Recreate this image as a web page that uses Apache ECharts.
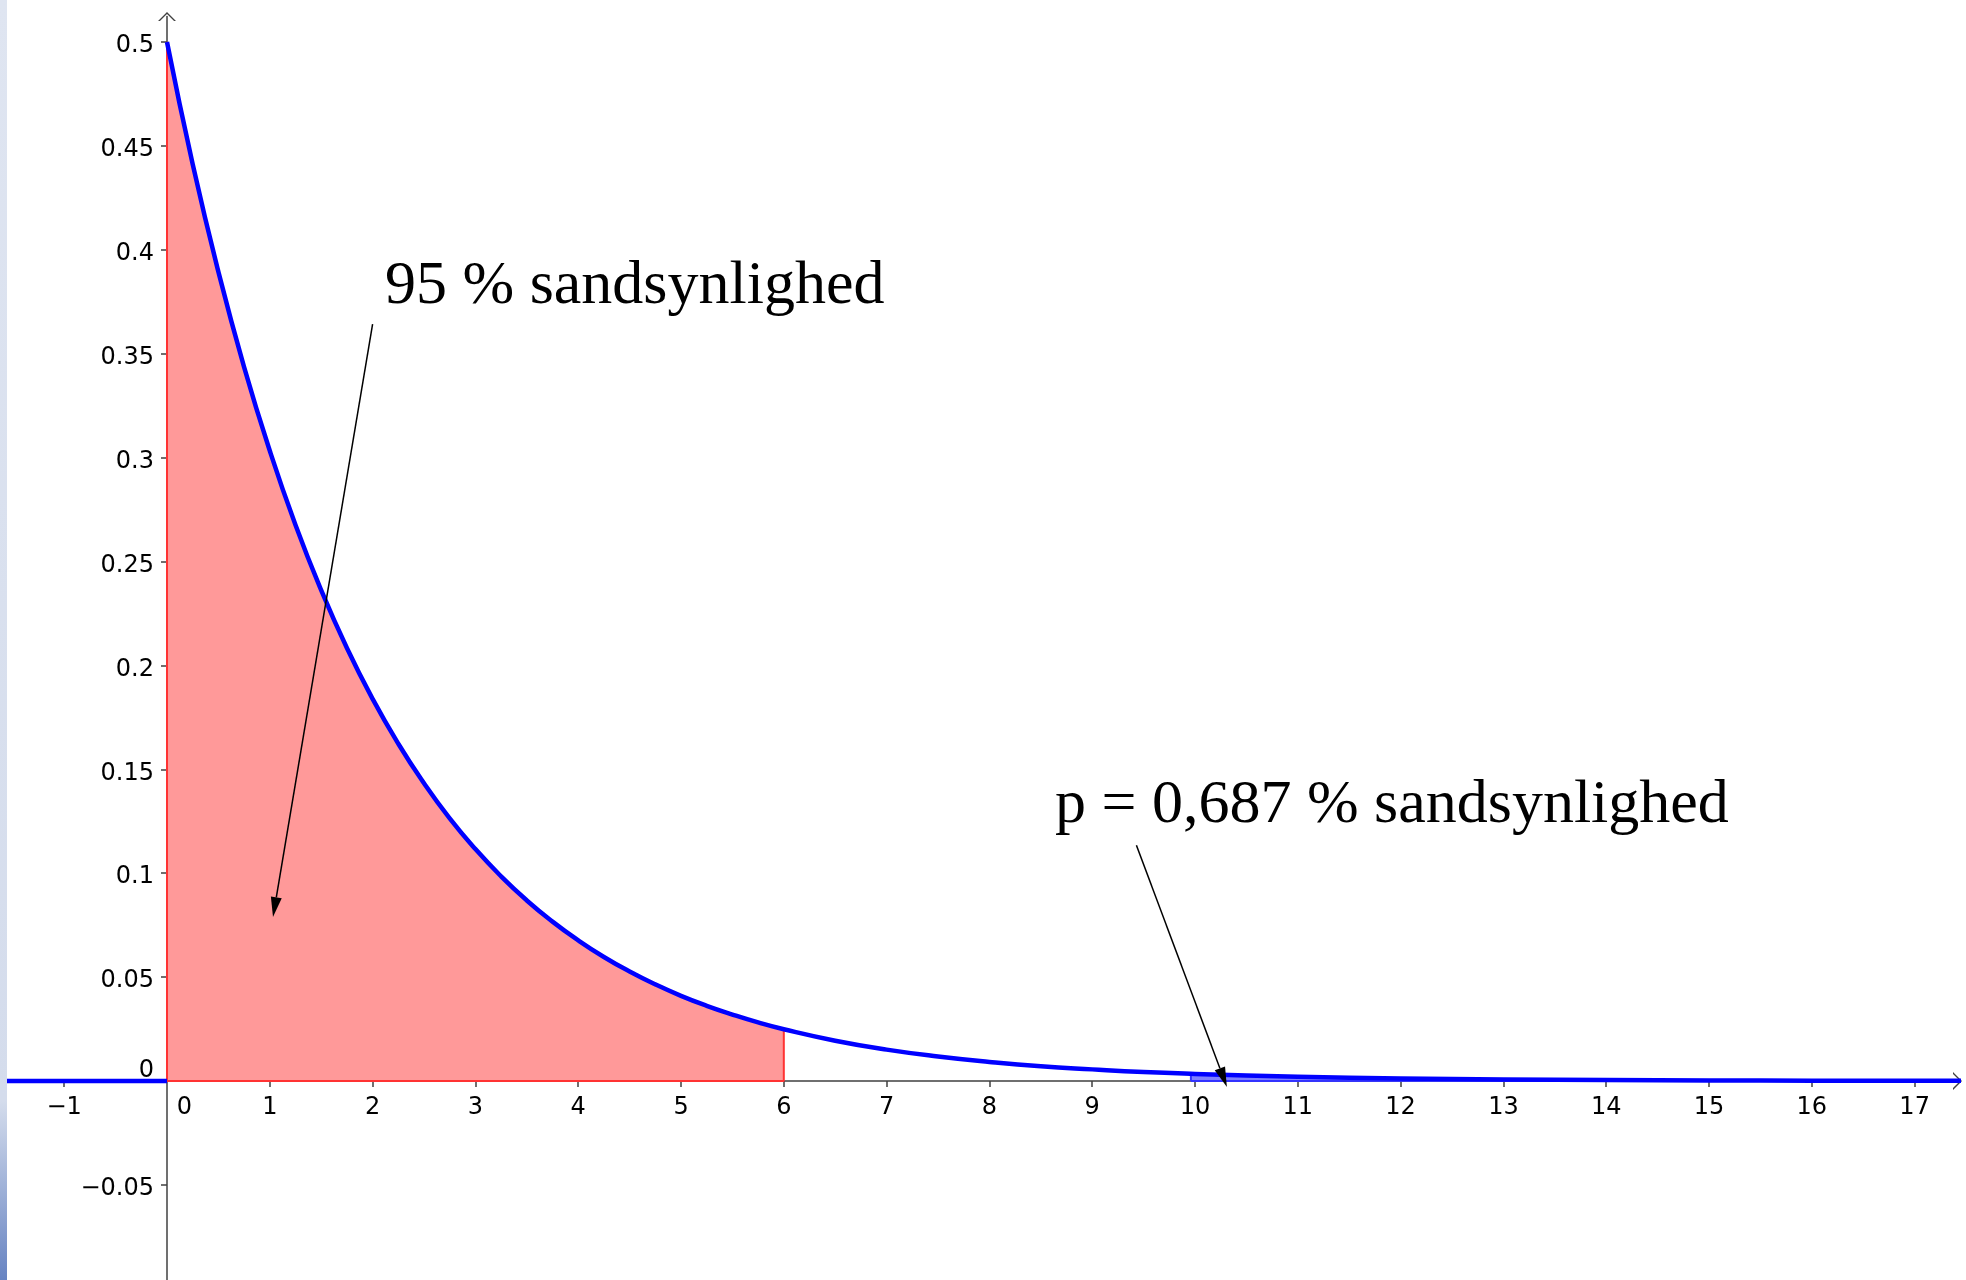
<!DOCTYPE html>
<html>
<head>
<meta charset="utf-8">
<script src="https://cdn.jsdelivr.net/npm/echarts@6/dist/echarts.min.js"></script>
<style>
html,body{margin:0;padding:0;background:#fff;}
#c{width:1966px;height:1280px;}
</style>
</head>
<body>
<div id="c"></div>
<script>
// ---- data ----
const curveX = [0, 0.25, 0.5, 0.75, 1, 1.25, 1.5, 1.75, 2, 2.25, 2.5, 2.75, 3, 3.25, 3.5, 3.75, 4, 4.25, 4.5, 4.75, 5, 5.25, 5.5, 5.75, 6, 6.5, 7, 7.5, 8, 8.5, 9, 9.5, 10, 11, 12, 13, 14, 15, 16, 17, 17.5];
const curveY = [0.5, 0.4412, 0.3894, 0.3436, 0.3033, 0.2676, 0.2362, 0.2084, 0.1839, 0.1623, 0.1433, 0.1264, 0.1116, 0.0985, 0.0869, 0.0767, 0.0677, 0.0597, 0.0527, 0.0465, 0.0410, 0.0362, 0.0320, 0.0282, 0.0249, 0.0194, 0.0151, 0.0118, 0.0092, 0.0071, 0.0056, 0.0043, 0.0034, 0.0020, 0.0012, 0.00075, 0.00045, 0.00028, 0.00017, 0.0001, 0.00008];
const leftFlatX = [-2, 0];
const leftFlatY = [0, 0];
const redRegionEnd = 6;          // 95 % region: 0 .. 6
const tailStartX = 9.96;         // p-value region: 9.96 .. end
const tailStartY = 0.0034;
const xTickValues = [-1, 0, 1, 2, 3, 4, 5, 6, 7, 8, 9, 10, 11, 12, 13, 14, 15, 16, 17];
const yTickValues = [-0.05, 0, 0.05, 0.1, 0.15, 0.2, 0.25, 0.3, 0.35, 0.4, 0.45, 0.5];
const annTexts = ['95 % sandsynlighed', 'p = 0,687 % sandsynlighed'];
const annTextAnchor = [[2.121, 0.372], [8.638, 0.1222]];   // left, baseline (data units)
const annArrowFrom = [[2.0, 0.3643], [9.43, 0.1135]];
const annArrowTo = [[1.031, 0.0789], [10.31, -0.0029]];

// ---- build series data ----
const curve = curveX.map((x, i) => [x, curveY[i]]);
const leftFlat = leftFlatX.map((x, i) => [x, leftFlatY[i]]);
const redPoly = [[0, 0]].concat(curve.filter(p => p[0] <= redRegionEnd)).concat([[redRegionEnd, 0], [0, 0]]);
const tailPts = curve.filter(p => p[0] >= 10);
const tailPoly = [[tailStartX, 0], [tailStartX, tailStartY]].concat(tailPts).concat([[tailPts[tailPts.length - 1][0], 0], [tailStartX, 0]]);

// ---- layout ----
const X_MIN = -2, X_MAX = 17.417, Y_MIN = -0.1, Y_MAX = 0.5123;
const G = {left: -38.6, right: 8.5, top: 16.5, bottom: -8.8};
const ZERO_X_PX = 167, ZERO_Y_PX = 1081, H = 1280;

const axisColor = '#404040';
const labelFont = 'DejaVu Sans';
const arrowPath = 'path://M0,10 L10,0 L20,10 L17.8,10 L10,2.2 L2.2,10 Z';
const round2 = v => Math.round(v * 100) / 100;
const isIn = (arr, v) => arr.some(t => Math.abs(t - v) < 1e-9);
const fmtNum = v => String(round2(v)).replace('-', '\u2212');
const xFmt = v => !isIn(xTickValues, v) ? '' : (Math.abs(v) < 1e-9 ? '{z|0}' : fmtNum(v));
const yFmt = v => !isIn(yTickValues, v) ? '' : (Math.abs(v) < 1e-9 ? '{z|0}' : fmtNum(v));
const hidden = {show: false};

const chart = echarts.init(document.getElementById('c'), null, {renderer: 'canvas'});
const option = {
  animation: false,
  backgroundColor: '#ffffff',
  grid: [
    Object.assign({containLabel: false, outerBoundsMode: 'none'}, G),
    {left: G.left, right: G.right, top: G.top, bottom: H - ZERO_Y_PX, containLabel: false, outerBoundsMode: 'none'},
    {left: ZERO_X_PX, right: G.right, top: G.top, bottom: G.bottom, containLabel: false, outerBoundsMode: 'none'}
  ],
  xAxis: [
    {
      gridIndex: 0, type: 'value', min: X_MIN, max: X_MAX,
      splitLine: hidden, axisLabel: hidden,
      axisLine: {onZero: true, lineStyle: {color: axisColor, width: 1.5}, symbol: ['none', arrowPath], symbolSize: [18, 9]},
      axisTick: {show: true, inside: false, length: 6, customValues: xTickValues.filter(v => v !== 0), lineStyle: {color: axisColor, width: 1.5}}
    },
    {
      gridIndex: 1, type: 'value', min: X_MIN, max: X_MAX, interval: 1, position: 'bottom',
      splitLine: hidden, axisLine: {show: false, onZero: false}, axisTick: hidden,
      axisLabel: {
        show: true, hideOverlap: false, margin: 15, fontFamily: labelFont, fontSize: 24, color: '#000',
        formatter: xFmt,
        rich: {z: {padding: [0, 0, 0, 35], fontFamily: labelFont, fontSize: 24, color: '#000'}}
      }
    },
    {gridIndex: 2, type: 'value', min: 0, max: 1, show: false}
  ],
  yAxis: [
    {
      gridIndex: 0, type: 'value', min: Y_MIN, max: Y_MAX,
      splitLine: hidden, axisLabel: hidden,
      axisLine: {onZero: true, lineStyle: {color: axisColor, width: 1.5}, symbol: ['none', arrowPath], symbolSize: [18, 9]},
      axisTick: {show: true, inside: false, length: 6, customValues: yTickValues.filter(v => v !== 0), lineStyle: {color: axisColor, width: 1.5}}
    },
    {gridIndex: 1, type: 'value', min: 0, max: 1, show: false},
    {
      gridIndex: 2, type: 'value', min: Y_MIN, max: Y_MAX, interval: 0.05, position: 'left',
      splitLine: hidden, axisLine: {show: false, onZero: false}, axisTick: hidden,
      axisLabel: {
        show: true, hideOverlap: false, margin: 13, padding: [8, 0, 0, 0], fontFamily: labelFont, fontSize: 24, color: '#000',
        formatter: yFmt,
        rich: {z: {padding: [0, 0, 28, 0], fontFamily: labelFont, fontSize: 24, color: '#000'}}
      }
    }
  ],
  series: [
    {
      name: 'region95', type: 'line', xAxisIndex: 0, yAxisIndex: 0, data: redPoly, showSymbol: false, silent: true, z: 2,
      lineStyle: {color: '#ff3333', width: 2},
      areaStyle: {color: '#ff9999', opacity: 1}
    },
    {
      name: 'tail', type: 'line', xAxisIndex: 0, yAxisIndex: 0, data: tailPoly, showSymbol: false, silent: true, z: 3,
      lineStyle: {color: '#3333ff', width: 2},
      areaStyle: {color: '#7f7fff', opacity: 1}
    },
    {
      name: 'leftFlat', type: 'line', xAxisIndex: 0, yAxisIndex: 0, data: leftFlat, showSymbol: false, silent: true, z: 5,
      lineStyle: {color: '#0000ff', width: 4.5}
    },
    {
      name: 'density', type: 'line', xAxisIndex: 0, yAxisIndex: 0, data: curve, showSymbol: false, silent: true, z: 5,
      smooth: true,
      lineStyle: {color: '#0000ff', width: 4.5, join: 'round'}
    }
  ]
};
chart.setOption(option);

// ---- annotations (positioned through the chart's own scales) ----
const toPx = p => chart.convertToPixel({xAxisIndex: 0, yAxisIndex: 0}, p);
const annFontSize = 62;
const graphics = [];
graphics.push({
  type: 'rect', z: 100, silent: true,
  shape: {x: 0, y: 0, width: 7, height: 1280},
  style: {fill: {type: 'linear', x: 0, y: 0, x2: 0, y2: 1, colorStops: [
    {offset: 0, color: '#dfe5f1'}, {offset: 0.86, color: '#d4dcec'}, {offset: 1, color: '#6683c2'}]}}
});
annTexts.forEach((t, i) => {
  const a = toPx(annArrowFrom[i]);
  const b = toPx(annArrowTo[i]);
  const dx = b[0] - a[0], dy = b[1] - a[1];
  const L = Math.hypot(dx, dy), ux = dx / L, uy = dy / L;
  const headLen = 20, headW = 5.5;
  const base = [b[0] - ux * headLen, b[1] - uy * headLen];
  graphics.push({
    type: 'line', z: 50, silent: true,
    shape: {x1: a[0], y1: a[1], x2: base[0], y2: base[1]},
    style: {stroke: '#000', lineWidth: 1.5}
  });
  graphics.push({
    type: 'polygon', z: 50, silent: true,
    shape: {points: [b, [base[0] - uy * headW, base[1] + ux * headW], [base[0] + uy * headW, base[1] - ux * headW]]},
    style: {fill: '#000'}
  });
  const tp = toPx(annTextAnchor[i]);
  graphics.push({
    type: 'text', z: 60, silent: true,
    x: tp[0], y: tp[1] - 0.3375 * annFontSize,
    style: {text: t, fontFamily: 'Liberation Serif', fontSize: annFontSize, fill: '#000', align: 'left', verticalAlign: 'middle'}
  });
});
chart.setOption({graphic: graphics});
</script>
</body>
</html>
